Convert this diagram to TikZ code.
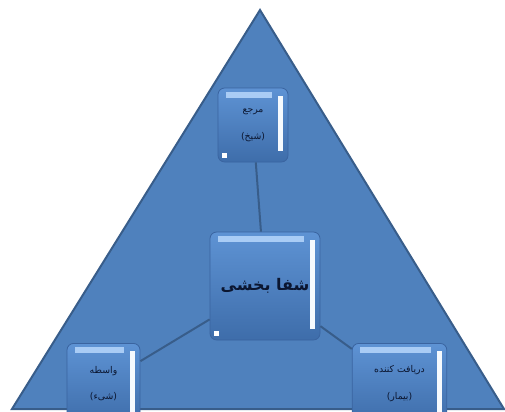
\documentclass[tikz,border=0pt]{standalone}
\usepackage{fontspec}
\newfontfamily\arabicfont[Script=Arabic]{DejaVu Sans}
\TeXXeTstate=1
\usepackage{tikz}

\definecolor{trifill}{HTML}{4F81BD}
\definecolor{triedge}{HTML}{385D8A}
\definecolor{tiletop}{HTML}{5E93D4}
\definecolor{tilebot}{HTML}{3E6DAA}
\definecolor{tileedge}{HTML}{3A64A0}
\definecolor{tileshine}{HTML}{A9CCF5}
\definecolor{tiletext}{HTML}{0B1630}

\tikzset{
  tile/.style={rounded corners=5pt, draw=tileedge, line width=0.6pt,
    top color=tiletop, bottom color=tilebot, align=center, inner sep=0.75pt,
    text=tiletext, font=\arabicfont,
    path picture={
      \fill[tileshine, draw=none, sharp corners] ([xshift=6pt,yshift=-3pt]path picture bounding box.north west)
        rectangle ([xshift=-12pt,yshift=-7.5pt]path picture bounding box.north east);
      \fill[white!90!tileshine, draw=none, sharp corners] ([xshift=-7.5pt,yshift=-6pt]path picture bounding box.north east)
        rectangle ([xshift=-4pt,yshift=8pt]path picture bounding box.south east);
      \fill[white, draw=none, sharp corners] ([xshift=3pt,yshift=3pt]path picture bounding box.south west)
        rectangle ++(4pt,4pt);
    }},
  link/.style={draw=triedge, line width=1.5pt},
}

\begin{document}
\begin{tikzpicture}[x=0.75pt,y=0.75pt,yscale=-1,xscale=1]
    \useasboundingbox (0,0) rectangle (505,411);
    \clip (0,0) rectangle (505,411);

    %Shape: Triangle
    \draw [fill=trifill, draw=triedge, line width=1.5pt] (260,10) -- (504,409) -- (12,409) -- cycle ;

    %Shape: Rounded Rect (top)
    \node [tile, minimum width=52.5pt, minimum height=55.5pt, font=\arabicfont\scriptsize]
      (morja) at (253,125) {\beginR مرجع\endR\\[12pt]\beginR (شیخ)\endR};
    %Shape: Rounded Rect (middle)
    \node [tile, minimum width=82.5pt, minimum height=81pt, font=\arabicfont\bfseries\large]
      (shefa) at (265,286) {\beginR شفا بخشی\endR};
    %Shape: Rounded Rect (bottom left)
    \node [tile, minimum width=54.75pt, minimum height=60pt, font=\arabicfont\scriptsize, anchor=north]
      (vaseteh) at (103.5,343) {\beginR واسطه\endR\\[12pt]\beginR (شیء)\endR};
    %Shape: Rounded Rect (bottom right)
    \node [tile, minimum width=71pt, minimum height=60pt, font=\arabicfont\scriptsize, anchor=north]
      (daryaft) at (399.5,343) {\beginR دریافت کننده\endR\\[12pt]\beginR (بیمار)\endR};

    %Connectors
    \draw [link] (morja) -- (shefa) ;
    \draw [link] (shefa) -- (vaseteh) ;
    \draw [link] (shefa) -- (daryaft) ;

\end{tikzpicture}
\end{document}
